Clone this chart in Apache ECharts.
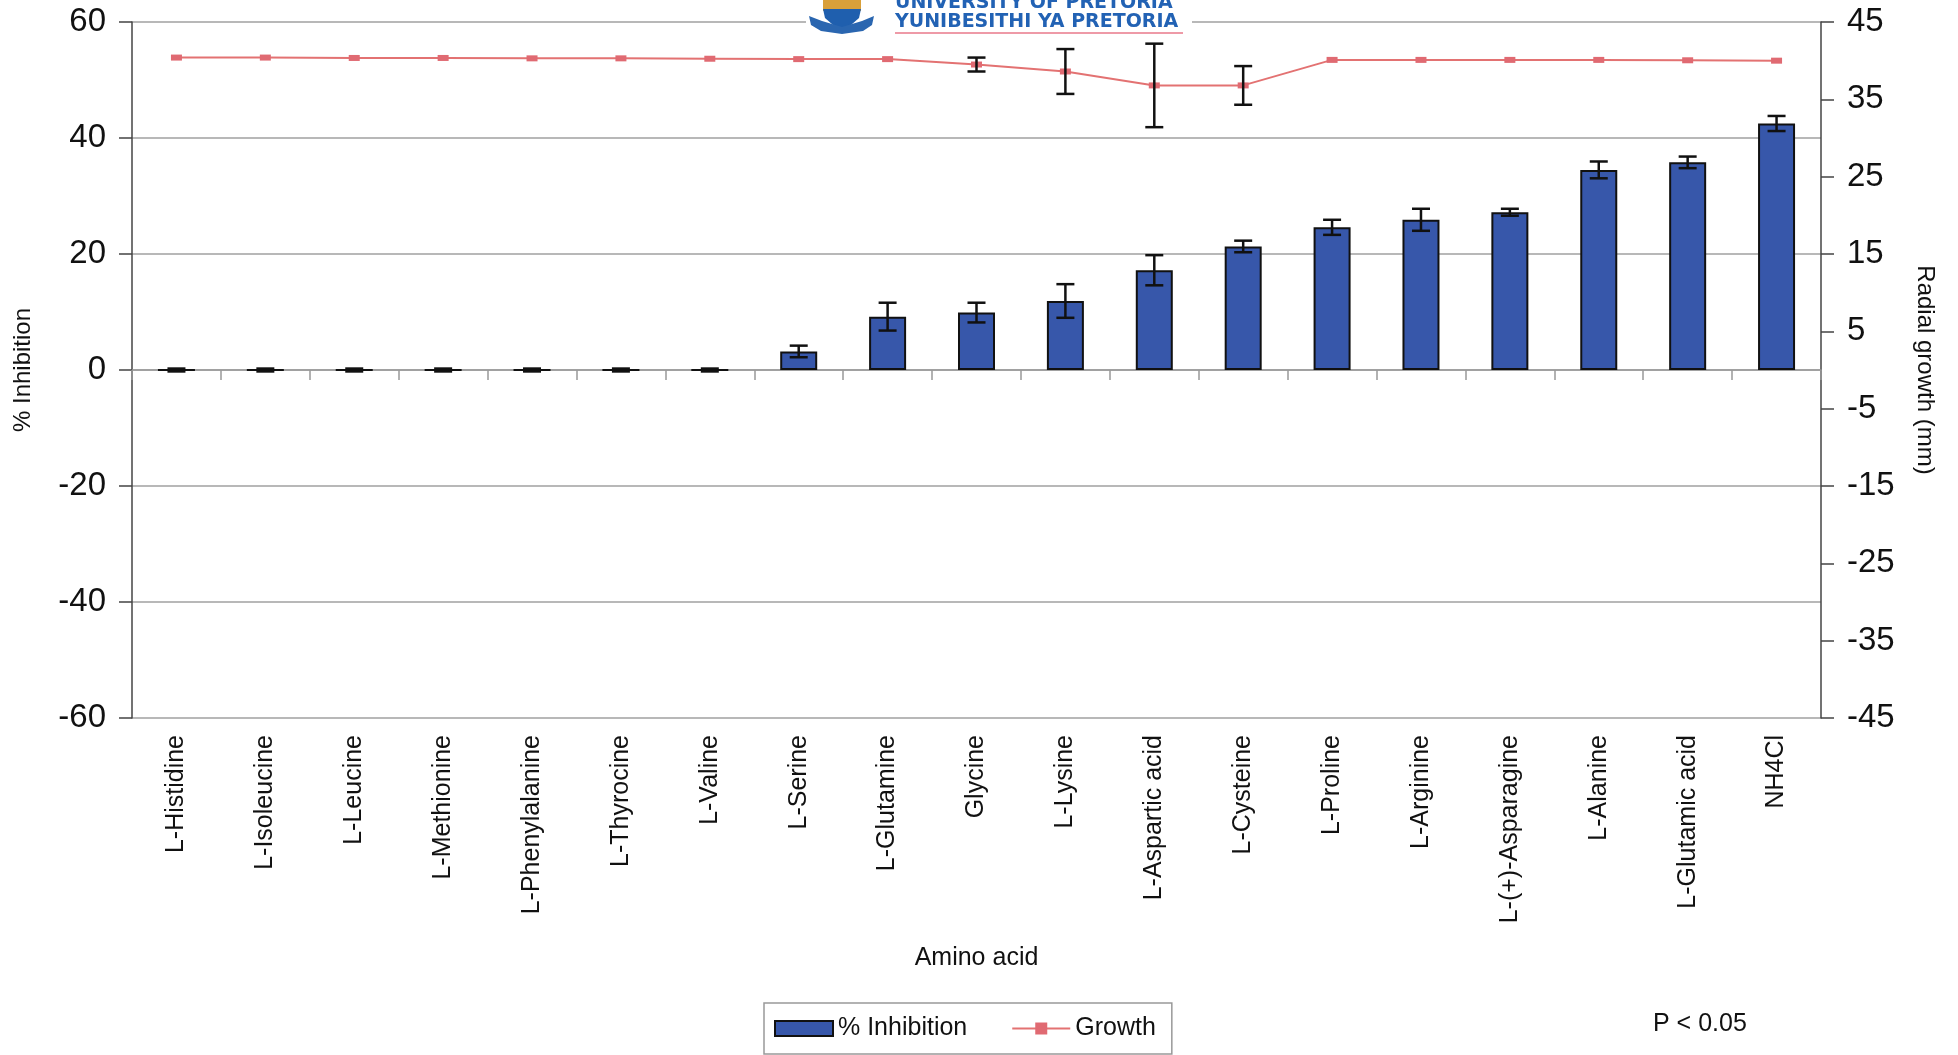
<!DOCTYPE html>
<html>
<head>
<meta charset="utf-8">
<title>% Inhibition and radial growth by amino acid</title>
<script src="https://cdn.jsdelivr.net/npm/echarts@6/dist/echarts.min.js"></script>
<style>
html, body { margin: 0; padding: 0; background: #fff; }
#chart { width: 1958px; height: 1055px; }
</style>
</head>
<body>
<div id="chart"></div>
<script>
// nitrogen sources along the x axis
const categories = ['L-Histidine', 'L-Isoleucine', 'L-Leucine', 'L-Methionine', 'L-Phenylalanine',
  'L-Thyrocine', 'L-Valine', 'L-Serine', 'L-Glutamine', 'Glycine', 'L-Lysine', 'L-Aspartic acid',
  'L-Cysteine', 'L-Proline', 'L-Arginine', 'L-(+)-Asparagine', 'L-Alanine', 'L-Glutamic acid', 'NH4Cl'];

// % inhibition (left axis) and its error
const inhibition = [0, 0, 0, 0, 0, 0, 0, 3.2, 9.2, 9.9, 11.9, 17.2, 21.3, 24.6, 25.9, 27.2, 34.5, 35.8, 42.5];
const inhibitionErr = [0.25, 0.25, 0.25, 0.25, 0.25, 0.25, 0.25, 1.0, 2.4, 1.7, 2.9, 2.6, 1.0, 1.3, 1.9, 0.6, 1.45, 1.0, 1.3];

// radial growth in mm (right axis) and its error
const growth = [40.4, 40.4, 40.35, 40.35, 40.3, 40.3, 40.25, 40.2, 40.2, 39.5, 38.6, 36.8, 36.8, 40.1, 40.1, 40.1, 40.1, 40.05, 40.0];
const growthErr = [0, 0, 0, 0, 0, 0, 0, 0, 0, 0.9, 2.9, 5.4, 2.5, 0, 0, 0, 0, 0, 0];

const font = '"Liberation Sans", Arial, sans-serif';

function errorBar(params, api) {
  const x = api.value(0);
  const lo = api.coord([x, api.value(1)]);
  const hi = api.coord([x, api.value(2)]);
  const half = 9;
  const style = { stroke: '#111', lineWidth: 2.5 };
  return {
    type: 'group',
    children: [
      { type: 'line', shape: { x1: hi[0], y1: hi[1], x2: lo[0], y2: lo[1] }, style: style },
      { type: 'line', shape: { x1: hi[0] - half, y1: hi[1], x2: hi[0] + half, y2: hi[1] }, style: style },
      { type: 'line', shape: { x1: lo[0] - half, y1: lo[1], x2: lo[0] + half, y2: lo[1] }, style: style }
    ]
  };
}

const inhibitionBars = categories.map((c, i) => [i, inhibition[i] - inhibitionErr[i], inhibition[i] + inhibitionErr[i]]);
const growthBars = categories.map((c, i) => [i, growth[i] - growthErr[i], growth[i] + growthErr[i]])
  .filter((d, i) => growthErr[i] > 0);

const chart = echarts.init(document.getElementById('chart'));

chart.setOption({
  backgroundColor: '#fff',
  animation: false,
  textStyle: { fontFamily: font, color: '#111' },
  grid: { left: 132, right: 137, top: 22, bottom: 337 },
  legend: {
    data: [{ name: '% Inhibition', icon: 'rect' }, { name: 'Growth' }],
    left: 764,
    top: 1003,
    padding: [13, 16, 13, 10],
    itemWidth: 58,
    itemHeight: 15,
    itemGap: 44,
    borderColor: '#999',
    borderWidth: 1.5,
    textStyle: { fontSize: 25, color: '#111', fontFamily: font }
  },
  xAxis: [
    {
      type: 'category',
      data: categories,
      position: 'bottom',
      axisLine: { show: false },
      axisTick: { show: false },
      axisLabel: { rotate: 90, interval: 0, fontSize: 25, margin: 17, color: '#111' },
      name: 'Amino acid',
      nameLocation: 'middle',
      nameGap: 228,
      nameTextStyle: { fontSize: 25, color: '#111' }
    },
    {
      type: 'category',
      data: categories,
      position: 'bottom',
      axisLine: { show: true, onZero: true, onZeroAxisIndex: 0, lineStyle: { color: '#999', width: 1.5 } },
      axisTick: { show: true, interval: 0, length: 10, lineStyle: { color: '#999', width: 1.5 } },
      axisLabel: { show: false }
    }
  ],
  yAxis: [
    {
      type: 'value',
      min: -60,
      max: 60,
      interval: 20,
      axisLine: { show: true, lineStyle: { color: '#444', width: 1.5 } },
      axisTick: { show: true, length: 13, lineStyle: { color: '#444', width: 1.5 } },
      axisLabel: { fontSize: 33, margin: 26, color: '#111' },
      splitLine: { lineStyle: { color: '#a0a0a0', width: 1.5 } },
      name: '% Inhibition',
      nameLocation: 'middle',
      nameGap: 97,
      nameTextStyle: { fontSize: 24, color: '#111' }
    },
    {
      type: 'value',
      position: 'right',
      min: -45,
      max: 45,
      interval: 10,
      axisLine: { show: true, lineStyle: { color: '#444', width: 1.5 } },
      axisTick: { show: true, length: 13, lineStyle: { color: '#444', width: 1.5 } },
      axisLabel: { fontSize: 33, margin: 26, color: '#111' },
      splitLine: { show: false },
      name: 'Radial growth (mm)',
      nameLocation: 'middle',
      nameRotate: -90,
      nameGap: 92,
      nameTextStyle: { fontSize: 24, color: '#111' }
    }
  ],
  series: [
    {
      name: '% Inhibition',
      type: 'bar',
      xAxisIndex: 0,
      yAxisIndex: 0,
      data: inhibition,
      barWidth: 37,
      itemStyle: { color: '#3757AA', borderColor: '#111', borderWidth: 2 },
      z: 2
    },
    {
      type: 'custom',
      xAxisIndex: 0,
      yAxisIndex: 0,
      renderItem: errorBar,
      data: inhibitionBars,
      encode: { x: 0, y: [1, 2] },
      z: 3
    },
    {
      name: 'Growth',
      type: 'line',
      xAxisIndex: 0,
      yAxisIndex: 1,
      data: growth,
      symbol: 'rect',
      symbolSize: [11, 6],
      lineStyle: { color: '#E37272', width: 2 },
      itemStyle: { color: '#E06A72' },
      z: 4
    },
    {
      type: 'custom',
      xAxisIndex: 0,
      yAxisIndex: 1,
      renderItem: errorBar,
      data: growthBars,
      encode: { x: 0, y: [1, 2] },
      z: 5
    }
  ],
  graphic: [
    { type: 'text', left: 1653, top: 1012, style: { text: 'P < 0.05', font: '25px ' + font, fill: '#111' } },
    // university logo on top of the plot frame
    { type: 'rect', shape: { x: 806, y: 0, width: 386, height: 36 }, style: { fill: '#fff' }, z: 10 },
    { type: 'polygon', shape: { points: [[823, 0], [861, 0], [861, 11], [823, 11]] }, style: { fill: '#D9A03A' }, z: 11 },
    { type: 'polygon', shape: { points: [[823, 9], [861, 9], [859, 18], [851, 25], [842, 29], [833, 25], [825, 18]] }, style: { fill: '#1F5FAE' }, z: 11 },
    { type: 'polygon', shape: { points: [[809, 16], [822, 21], [842, 27], [862, 21], [874, 16], [872, 25], [863, 31], [842, 34], [821, 31], [811, 25]] }, style: { fill: '#2A66B0' }, z: 11 },
    { type: 'text', x: 895, y: 3, style: { text: 'UNIVERSITY OF PRETORIA', font: 'bold 19px "DejaVu Sans", sans-serif', fill: '#2262B4', verticalAlign: 'middle' }, z: 11 },
    { type: 'text', x: 895, y: 22, style: { text: 'YUNIBESITHI YA PRETORIA', font: 'bold 19px "DejaVu Sans", sans-serif', fill: '#2262B4', verticalAlign: 'middle' }, z: 11 },
    { type: 'line', shape: { x1: 895, y1: 33, x2: 1183, y2: 33 }, style: { stroke: '#E8788A', lineWidth: 1.5 }, z: 11 }
  ]
});
</script>
</body>
</html>
